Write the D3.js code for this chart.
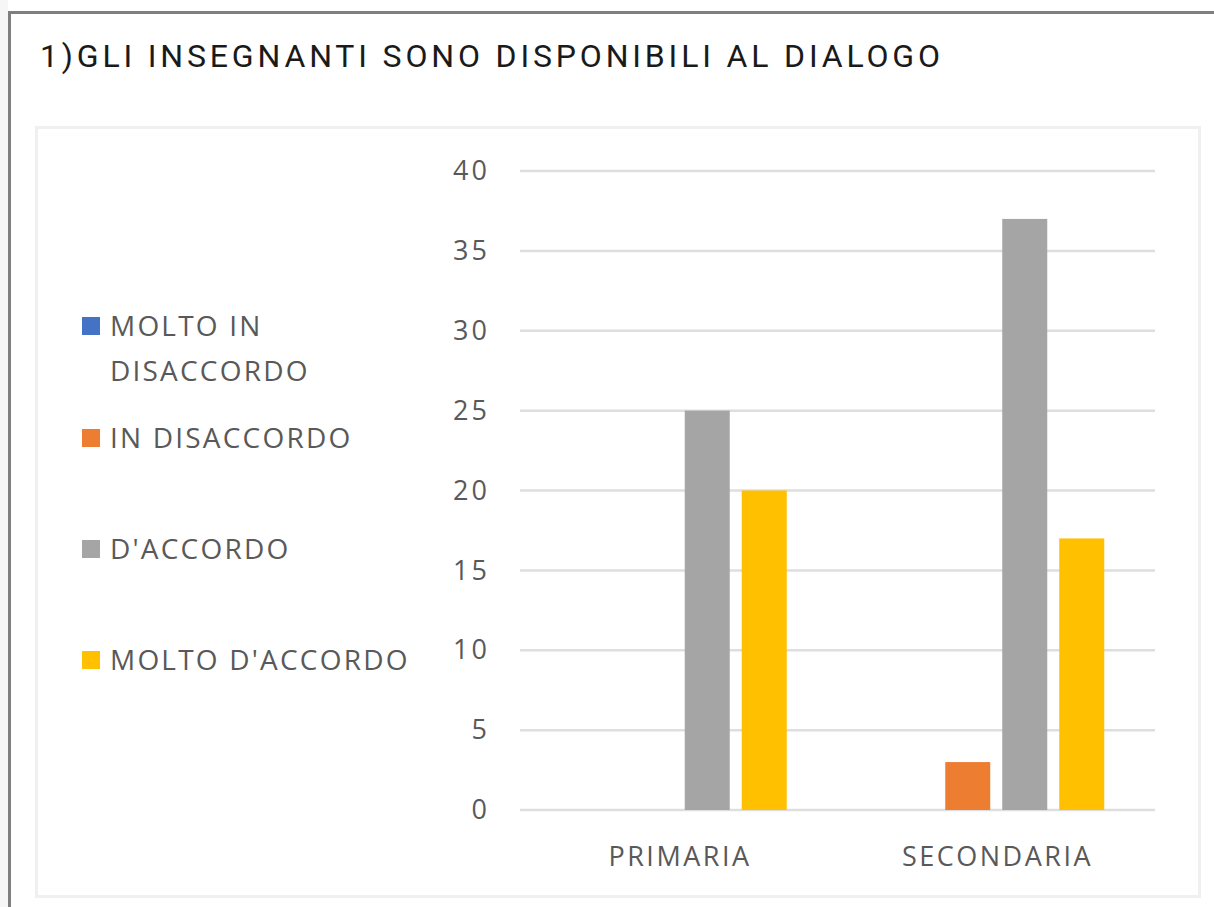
<!DOCTYPE html>
<html>
<head>
<meta charset="utf-8">
<script src="https://cdn.jsdelivr.net/npm/d3@7"></script>
<style>
  html, body { margin: 0; padding: 0; background: #ffffff; }
  svg { display: block; }
</style>
</head>
<body>
<svg id="chart" width="1214" height="907"></svg>
<script>
// Survey answers per school level
const title = "1)GLI INSEGNANTI SONO DISPONIBILI AL DIALOGO";
const categories = ["PRIMARIA", "SECONDARIA"];
const seriesNames = ["MOLTO IN DISACCORDO", "IN DISACCORDO", "D'ACCORDO", "MOLTO D'ACCORDO"];
const legendLines = [["MOLTO IN", "DISACCORDO"], ["IN DISACCORDO"], ["D'ACCORDO"], ["MOLTO D'ACCORDO"]];
const seriesColors = ["#4472c4", "#ed7d31", "#a5a5a5", "#ffc000"];
const primariaValues = [0, 0, 25, 20];
const secondariaValues = [0, 3, 37, 17];
const yTicks = [0, 5, 10, 15, 20, 25, 30, 35, 40];

const values = [primariaValues, secondariaValues];
const rows = categories.map((c, i) => ({
  category: c,
  items: seriesNames.map((s, j) => ({ series: s, color: seriesColors[j], value: values[i][j] }))
}));

const svg = d3.select("#chart");
const textColor = "#595959";
const labelFont = "'Open Sans', 'DejaVu Sans', sans-serif";

// faint strip left of the frame
svg.append("rect")
  .attr("x", 0).attr("y", 0).attr("width", 8).attr("height", 907)
  .attr("fill", "#f6f6f6");

// outer frame (top and left edges)
svg.append("path")
  .attr("d", "M9.5,907 L9.5,12.5 L1214,12.5")
  .attr("fill", "none")
  .attr("stroke", "#7f7f7f")
  .attr("stroke-width", 3);

// chart area panel
svg.append("rect")
  .attr("x", 36.5).attr("y", 127.5)
  .attr("width", 1163).attr("height", 769)
  .attr("fill", "#ffffff")
  .attr("stroke", "#f0f0f0")
  .attr("stroke-width", 3);

// title
svg.append("text")
  .attr("x", 40).attr("y", 67)
  .attr("font-family", "Roboto, 'Liberation Sans', sans-serif")
  .attr("font-weight", 400)
  .attr("font-size", 32)
  .attr("fill", "#1a1a1a")
  .attr("textLength", 900)
  .attr("lengthAdjust", "spacing")
  .text(title);

// scales
const plotLeft = 520, plotRight = 1155, plotTop = 171, plotBottom = 810;
const y = d3.scaleLinear().domain([0, 40]).range([plotBottom, plotTop]);
const x0 = d3.scaleBand().domain(categories).range([plotLeft, plotRight]).padding(0);
const groupWidth = 216;
const x1 = d3.scaleBand().domain(seriesNames).range([0, groupWidth]).paddingInner(12 / 57).paddingOuter(0);

// gridlines
svg.append("g")
  .selectAll("line")
  .data(yTicks)
  .join("line")
  .attr("x1", plotLeft).attr("x2", plotRight)
  .attr("y1", d => y(d)).attr("y2", d => y(d))
  .attr("stroke", "#dedede")
  .attr("stroke-width", 2.5);

// y axis labels (trailing letter-spacing compensated in the offset)
const tickSpacing = 3;
const yAxis = d3.axisLeft(y).tickValues(yTicks).tickSize(0).tickPadding(0);
const yG = svg.append("g").attr("transform", `translate(${487 + tickSpacing},0)`).call(yAxis);
yG.select(".domain").remove();
yG.selectAll("text")
  .attr("font-family", labelFont)
  .attr("font-size", 27)
  .attr("fill", textColor)
  .attr("letter-spacing", tickSpacing);

// bars
const groups = svg.append("g")
  .selectAll("g")
  .data(rows)
  .join("g")
  .attr("transform", d => `translate(${x0(d.category) + x0.bandwidth() / 2 - groupWidth / 2},0)`);

groups.selectAll("rect")
  .data(d => d.items.filter(it => it.value > 0))
  .join("rect")
  .attr("x", d => x1(d.series))
  .attr("width", x1.bandwidth())
  .attr("y", d => y(d.value))
  .attr("height", d => y(0) - y(d.value))
  .attr("fill", d => d.color);

// category axis labels
const catSpacing = 2.5;
const xAxis = d3.axisBottom(x0).tickSize(0).tickPadding(0);
const xG = svg.append("g").attr("transform", `translate(${catSpacing / 2},${856})`).call(xAxis);
xG.select(".domain").remove();
xG.selectAll("text")
  .attr("font-family", labelFont)
  .attr("font-size", 27)
  .attr("fill", textColor)
  .attr("letter-spacing", catSpacing)
  .attr("dy", "0.36em");

// legend
const legendY = [326, 438, 549, 660];
const legend = svg.append("g")
  .selectAll("g")
  .data(seriesNames)
  .join("g")
  .attr("transform", (d, i) => `translate(82,${legendY[i]})`);

legend.append("rect")
  .attr("x", 0).attr("y", -9)
  .attr("width", 18).attr("height", 18)
  .attr("fill", (d, i) => seriesColors[i]);

legend.append("text")
  .attr("font-family", labelFont)
  .attr("font-size", 28)
  .attr("fill", textColor)
  .attr("letter-spacing", 2.2)
  .selectAll("tspan")
  .data((d, i) => legendLines[i])
  .join("tspan")
  .attr("x", 28)
  .attr("dy", (d, k) => k === 0 ? "0.36em" : "1.6em")
  .text(d => d);
</script>
</body>
</html>
